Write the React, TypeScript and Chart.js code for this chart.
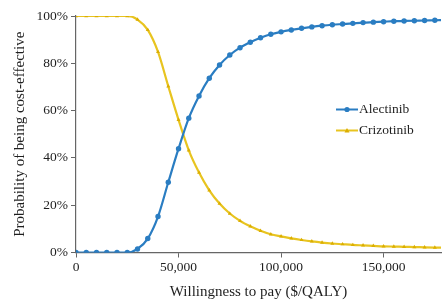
import React, { useEffect, useRef } from "react";
import { Chart, registerables } from "chart.js";

Chart.register(...registerables);

const wtp: number[] = [
  0, 5000, 10000, 15000, 20000, 25000, 30000, 35000, 40000, 45000, 50000,
  55000, 60000, 65000, 70000, 75000, 80000, 85000, 90000, 95000, 100000,
  105000, 110000, 115000, 120000, 125000, 130000, 135000, 140000, 145000,
  150000, 155000, 160000, 165000, 170000, 175000, 180000,
];

const alectinib: number[] = [
  0, 0, 0, 0, 0, 0, 1.5, 5.9, 15.2, 29.7, 43.9, 56.8, 66.2, 73.7, 79.3, 83.5,
  86.6, 88.9, 90.8, 92.3, 93.3, 94.1, 94.8, 95.4, 95.9, 96.3, 96.6, 96.9, 97.2,
  97.4, 97.6, 97.8, 97.9, 98.0, 98.1, 98.2, 98.3,
];

const crizotinib: number[] = [
  100, 100, 100, 100, 100, 100, 98.5, 94.1, 84.8, 70.3, 56.1, 43.2, 33.8, 26.3,
  20.7, 16.5, 13.4, 11.1, 9.2, 7.7, 6.8, 6.0, 5.3, 4.7, 4.2, 3.8, 3.5, 3.2, 3.0,
  2.8, 2.6, 2.5, 2.4, 2.3, 2.2, 2.1, 2.0,
];

const xTicks: number[] = [0, 50000, 100000, 150000];
const yTicks: number[] = [0, 20, 40, 60, 80, 100];

const BLUE = "#2a7dc2";
const YELLOW = "#e8c420";
const TEXT = "#1e1e1e";
const FONT = "'Liberation Serif', 'Times New Roman', serif";

const legendPlugin = {
  id: "innerLegend",
  afterDatasetsDraw(chart: any) {
    const { ctx, chartArea } = chart;
    const x0 = chartArea.left + 260;
    const y0 = chartArea.top + 93.5;
    const gap = 21;
    chart.data.datasets.forEach((ds: any, i: number) => {
      const y = y0 + i * gap;
      ctx.save();
      ctx.strokeStyle = ds.borderColor;
      ctx.lineWidth = 2;
      ctx.beginPath();
      ctx.moveTo(x0, y);
      ctx.lineTo(x0 + 22, y);
      ctx.stroke();
      ctx.fillStyle = ds.pointBackgroundColor;
      ctx.beginPath();
      if (i === 0) {
        ctx.arc(x0 + 11, y, 2.6, 0, Math.PI * 2);
      } else {
        ctx.moveTo(x0 + 11, y - 2.5);
        ctx.lineTo(x0 + 13.5, y + 2);
        ctx.lineTo(x0 + 8.5, y + 2);
        ctx.closePath();
      }
      ctx.fill();
      ctx.fillStyle = TEXT;
      ctx.font = `13.5px ${FONT}`;
      ctx.textAlign = "left";
      ctx.textBaseline = "middle";
      ctx.fillText(ds.label, x0 + 23, y);
      ctx.restore();
    });
  },
};

export default function App() {
  const ref = useRef<HTMLCanvasElement | null>(null);

  useEffect(() => {
    document.body.style.margin = "0";
    const canvas = ref.current;
    if (!canvas) return;
    const chart = new Chart(canvas, {
      type: "line",
      data: {
        datasets: [
          {
            label: "Alectinib",
            data: wtp.map((x, i) => ({ x, y: alectinib[i] })),
            borderColor: BLUE,
            backgroundColor: BLUE,
            pointBackgroundColor: BLUE,
            pointBorderColor: BLUE,
            borderWidth: 2.2,
            pointRadius: 2.7,
            pointBorderWidth: 0,
            pointStyle: "circle",
            cubicInterpolationMode: "monotone",
          },
          {
            label: "Crizotinib",
            data: wtp.map((x, i) => ({ x, y: crizotinib[i] })),
            borderColor: YELLOW,
            backgroundColor: "#dcae00",
            pointBackgroundColor: "#dcae00",
            pointBorderColor: "#dcae00",
            borderWidth: 2.2,
            pointRadius: 2.3,
            pointBorderWidth: 0,
            pointStyle: "triangle",
            cubicInterpolationMode: "monotone",
          },
        ],
      },
      options: {
        responsive: false,
        animation: false,
        layout: { padding: { top: 16, right: 0, left: 0, bottom: 0 } },
        plugins: {
          legend: { display: false },
          tooltip: { enabled: false },
        },
        scales: {
          x: {
            type: "linear",
            min: 0,
            max: 178000,
            afterFit: (s: any) => {
              s.height = 48.5;
            },
            afterBuildTicks: (s: any) => {
              s.ticks = xTicks.map((v) => ({ value: v }));
            },
            ticks: {
              color: TEXT,
              font: { family: FONT, size: 13.5 },
              padding: 2,
              maxRotation: 0,
              autoSkip: false,
              callback: (v: any) => Number(v).toLocaleString("en-US"),
            },
            grid: {
              drawOnChartArea: false,
              drawTicks: true,
              tickLength: 5,
              color: "#666",
            },
            border: { display: true, color: "#666", width: 1.2 },
            title: {
              display: true,
              text: "Willingness to pay ($/QALY)",
              color: TEXT,
              font: { family: FONT, size: 15 },
              padding: { top: 4, bottom: 0 },
            },
          },
          y: {
            min: 0,
            max: 100,
            afterFit: (s: any) => {
              s.width = 76;
            },
            afterBuildTicks: (s: any) => {
              s.ticks = yTicks.map((v) => ({ value: v }));
            },
            ticks: {
              color: TEXT,
              font: { family: FONT, size: 13.5 },
              padding: 3,
              callback: (v: any) => `${v}%`,
            },
            grid: {
              drawOnChartArea: false,
              drawTicks: true,
              tickLength: 5,
              color: "#666",
            },
            border: { display: true, color: "#666", width: 1.2 },
            title: {
              display: true,
              text: "Probability of being cost-effective",
              color: TEXT,
              font: { family: FONT, size: 15 },
              padding: { top: 11, bottom: 0 },
            },
          },
        },
      },
      plugins: [legendPlugin],
    });
    return () => chart.destroy();
  }, []);

  return <canvas ref={ref} width={445} height={301} style={{ display: "block" }} />;
}
